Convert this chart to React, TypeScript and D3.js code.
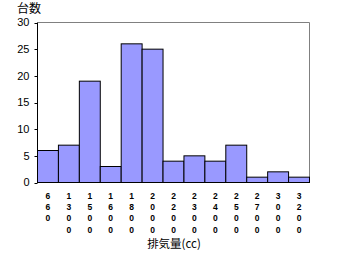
import React from "react";
import * as d3 from "d3";

const categories = ["660", "1300", "1500", "1600", "1800", "2000", "2200", "2300", "2400", "2500", "2700", "3000", "3200"];
const counts = [6, 7, 19, 3, 26, 25, 4, 5, 4, 7, 1, 2, 1];
const yTicks = [0, 5, 10, 15, 20, 25, 30];
const yTitle = "台数";
const xTitle = "排気量(cc)";

export default function App() {
  const W = 337, H = 255;
  const left = 37.5, right = 309.5, top = 22.5, bottom = 182.5;
  const x = d3.scaleBand<string>().domain(categories).range([left, right]).padding(0);
  const y = d3.scaleLinear().domain([0, 30]).range([bottom, top]);
  const numFont = "'Liberation Sans', Arial, sans-serif";
  const jpFont = "'Noto Sans CJK JP', sans-serif";
  return (
    <svg width={W} height={H} style={{ position: "absolute", left: 0, top: 0, background: "#fff" }}>
      <path d={`M${left},${top}H${right}V${bottom}`} fill="none" stroke="#808080" strokeWidth={1} />
      {categories.map((c, i) => (
        <rect key={c} x={x(c)!} y={y(counts[i])} width={x.bandwidth()} height={bottom - y(counts[i])}
          fill="#9999FF" stroke="#000" strokeWidth={1} />
      ))}
      <line x1={left} x2={left} y1={top} y2={bottom} stroke="#000" />
      <line x1={left} x2={right} y1={bottom} y2={bottom} stroke="#000" />
      {yTicks.map(t => (
        <g key={t}>
          <line x1={left - 3} x2={left} y1={Math.round(y(t)) + 0.5} y2={Math.round(y(t)) + 0.5} stroke="#000" />
          <text x={29.5} y={y(t)} dy="0.36em" textAnchor="end" fontFamily={numFont} fontSize={11} fill="#000">{t}</text>
        </g>
      ))}
      {categories.map(c => (
        <g key={c}>
          {c.split("").map((ch, j) => (
            <text key={j} x={x(c)! + x.bandwidth() / 2} y={195.5 + j * 11.4} dy="0.36em" textAnchor="middle"
              fontFamily={numFont} fontSize={8.5} fontWeight="bold" fill="#000">{ch}</text>
          ))}
        </g>
      ))}
      <text x={17} y={8.5} dy="0.36em" fontFamily={jpFont} fontSize={12} fill="#000">{yTitle}</text>
      <text x={174} y={244} dy="0.36em" textAnchor="middle" fontFamily={jpFont} fontSize={11.5} fill="#000">{xTitle}</text>
    </svg>
  );
}
